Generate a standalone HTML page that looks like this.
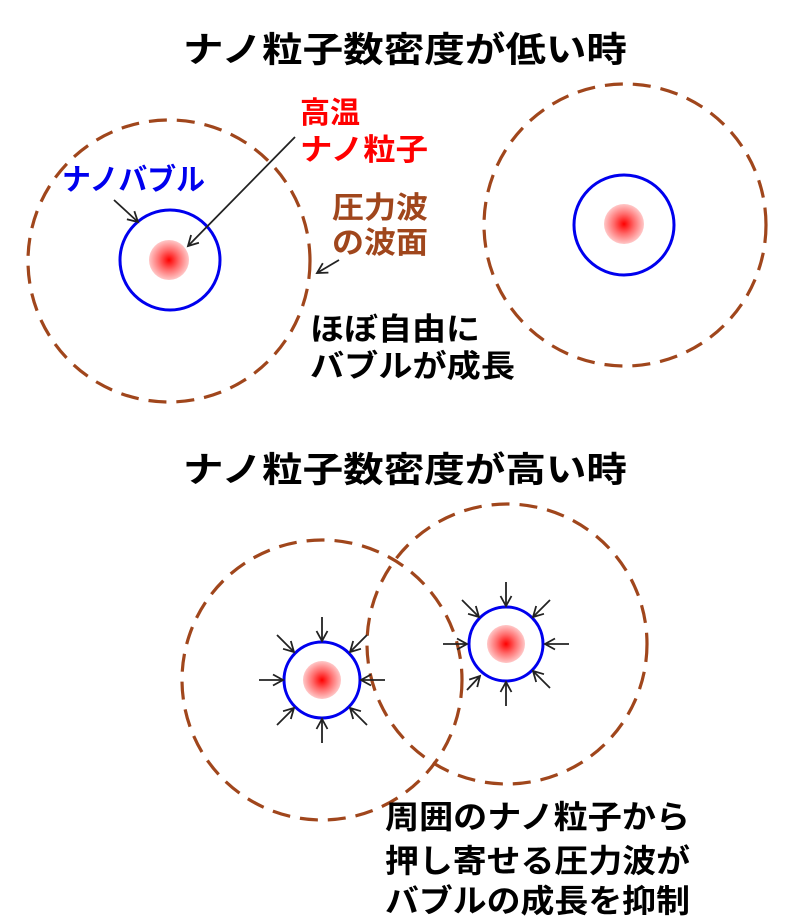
<!DOCTYPE html>
<html><head><meta charset="utf-8"><style>
html,body{margin:0;padding:0;background:#fff;}
svg{display:block;}
text{font-family:"Liberation Sans","Noto Sans CJK JP",sans-serif;font-weight:bold;}
</style></head><body>
<svg width="800" height="921" viewBox="0 0 800 921" xmlns="http://www.w3.org/2000/svg">
<defs>
<radialGradient id="rg"><stop offset="0" stop-color="#ff0000"/><stop offset="0.5" stop-color="#ff6b6b"/><stop offset="1" stop-color="#ffc8c8"/></radialGradient>
<marker id="ah" markerWidth="14" markerHeight="14" refX="12" refY="7" orient="auto" markerUnits="userSpaceOnUse">
<path d="M2,1.5 L12,7 L2,12.5" fill="none" stroke="#222" stroke-width="1.8"/></marker>
</defs>
<g fill="none" stroke="#a0461c" stroke-width="3.2" stroke-dasharray="18,10">
<circle cx="169" cy="261" r="141"/>
<circle cx="625" cy="225" r="141"/>
<circle cx="322" cy="680" r="140"/>
<circle cx="507" cy="644" r="140"/>
</g>
<g fill="url(#rg)">
<circle cx="169" cy="260" r="20"/>
<circle cx="624" cy="224" r="20"/>
<circle cx="322" cy="680" r="19"/>
<circle cx="506" cy="644" r="19"/>
</g>
<g fill="none" stroke="#0000ee" stroke-width="3">
<circle cx="170" cy="260" r="50"/>
<circle cx="624" cy="225" r="50"/>
<circle cx="322" cy="680" r="38"/>
<circle cx="506" cy="644" r="37"/>
</g>
<g stroke="#222" stroke-width="1.8" marker-end="url(#ah)">
<line x1="295" y1="137" x2="188" y2="246"/>
<line x1="114" y1="200" x2="138" y2="222"/>
<line x1="339" y1="260" x2="317" y2="273"/>
<line x1="322" y1="617" x2="322" y2="641"/>
<line x1="322" y1="743" x2="322" y2="719"/>
<line x1="259" y1="680" x2="283" y2="680"/>
<line x1="385" y1="680" x2="361" y2="680"/>
<line x1="277" y1="635" x2="294" y2="652"/>
<line x1="367" y1="635" x2="350" y2="652"/>
<line x1="277" y1="725" x2="294" y2="708"/>
<line x1="367" y1="725" x2="350" y2="708"/>
<line x1="506" y1="582" x2="506" y2="606"/>
<line x1="506" y1="706" x2="506" y2="682"/>
<line x1="443" y1="644" x2="467" y2="644"/>
<line x1="569" y1="644" x2="545" y2="644"/>
<line x1="462" y1="600" x2="479" y2="617"/>
<line x1="550" y1="600" x2="533" y2="617"/>
<line x1="467" y1="690" x2="480" y2="676"/>
<line x1="550" y1="688" x2="533" y2="671"/>
</g>
<text x="183" y="62" font-size="35" fill="#000" textLength="444" lengthAdjust="spacingAndGlyphs">ナノ粒子数密度が低い時</text>
<text x="183" y="482" font-size="35" fill="#000" textLength="444" lengthAdjust="spacingAndGlyphs">ナノ粒子数密度が高い時</text>
<text x="300" y="123" font-size="30" fill="#ff0000">高温</text>
<text x="300" y="160" font-size="30" fill="#ff0000" textLength="128" lengthAdjust="spacingAndGlyphs">ナノ粒子</text>
<text x="62" y="190" font-size="30" fill="#0000ee" textLength="143" lengthAdjust="spacingAndGlyphs">ナノバブル</text>
<text x="332" y="218" font-size="30" fill="#a0461c" textLength="96" lengthAdjust="spacingAndGlyphs">圧力波</text>
<text x="332" y="253" font-size="30" fill="#a0461c" textLength="96" lengthAdjust="spacingAndGlyphs">の波面</text>
<text x="310" y="340" font-size="31" fill="#000" textLength="170" lengthAdjust="spacingAndGlyphs">ほぼ自由に</text>
<text x="310" y="377" font-size="31" fill="#000" textLength="205" lengthAdjust="spacingAndGlyphs">バブルが成長</text>
<text x="385" y="828" font-size="32" fill="#000" textLength="305" lengthAdjust="spacingAndGlyphs">周囲のナノ粒子から</text>
<text x="385" y="872" font-size="32" fill="#000" textLength="305" lengthAdjust="spacingAndGlyphs">押し寄せる圧力波が</text>
<text x="385" y="912" font-size="32" fill="#000" textLength="305" lengthAdjust="spacingAndGlyphs">バブルの成長を抑制</text>
</svg>
</body></html>
